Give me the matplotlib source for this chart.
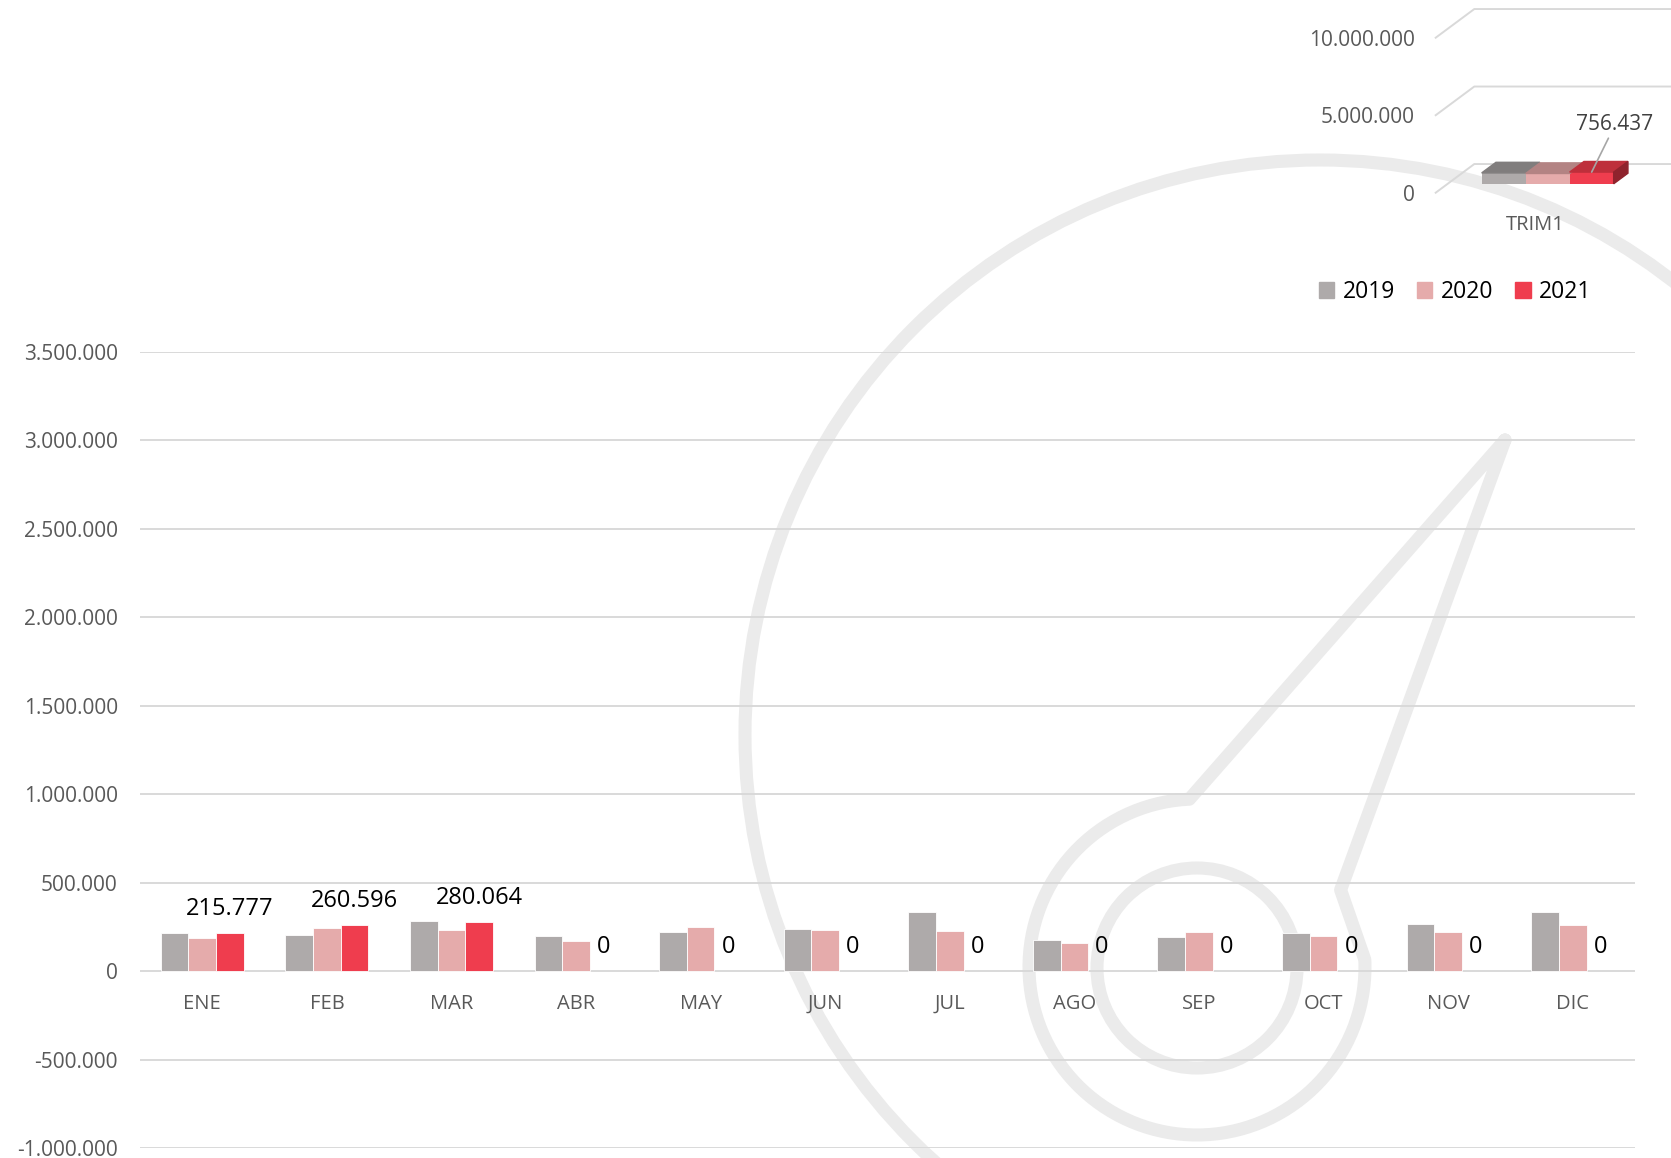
import numpy as np
import matplotlib
matplotlib.use("Agg")
import matplotlib.pyplot as plt
from matplotlib.patches import Polygon, Patch, Circle
from matplotlib.ticker import FuncFormatter

# monthly data
months = ["ENE", "FEB", "MAR", "ABR", "MAY", "JUN", "JUL", "AGO", "SEP", "OCT", "NOV", "DIC"]
years = ["2019", "2020", "2021"]
ventas_2019 = [216000, 203000, 284000, 197000, 220000, 237000, 333000, 174000, 193000, 218000, 267000, 333000]
ventas_2020 = [187500, 244000, 235000, 169000, 248000, 233000, 227000, 159000, 223000, 197000, 220000, 258000]
ventas_2021 = [215777, 260596, 280064, 0, 0, 0, 0, 0, 0, 0, 0, 0]
trim_labels = ["TRIM1"]

colors = ["#AEAAAA", "#E5ABAB", "#EF3D4E"]
top_colors = ["#807D7D", "#B38383", "#BE2F3B"]
side_color = "#8F232D"
grid_color = "#D9D9D9"
text_gray = "#595959"
wm_color = "#EBEBEB"

W, H = 1671, 1158
plt.rcParams["font.family"] = ["Open Sans", "DejaVu Sans"]


def fmt(v, pos=None):
    return f"{v:,.0f}".replace(",", ".")


def fig_box(x0, y0, x1, y1):
    # pixel box (y down) -> figure fraction rect
    return [x0 / W, 1 - y1 / H, (x1 - x0) / W, (y1 - y0) / H]


fig = plt.figure(figsize=(W / 100, H / 100), dpi=100)

# --- watermark (gauge icon) behind everything
bg = fig.add_axes([0, 0, 1, 1], zorder=0)
bg.set_xlim(0, W)
bg.set_ylim(H, 0)
bg.axis("off")
lw_wm = 9.4
bg.add_patch(Circle((1320, 735), 575, fill=False, ec=wm_color, lw=lw_wm))
bg.add_patch(Circle((1197, 968), 100, fill=False, ec=wm_color, lw=lw_wm))
cx, cy, R = 1197, 967, 168
tip = (1505, 440)
th = np.radians(np.linspace(92.6, 362.5, 200))
arc_x = cx + R * np.cos(th)
arc_y = cy - R * np.sin(th)
nx = np.concatenate([[tip[0]], arc_x, [1340.6, tip[0]]])
ny = np.concatenate([[tip[1]], arc_y, [889.9, tip[1]]])
bg.plot(nx, ny, color=wm_color, lw=lw_wm, solid_joinstyle="round", solid_capstyle="round")

# --- main monthly chart
ax = fig.add_axes(fig_box(140, 352, 1635, 1148), zorder=1)
ax.patch.set_alpha(0)
x = np.arange(len(months))
w = 0.222
series = [ventas_2019, ventas_2020, ventas_2021]
for i, (vals, c) in enumerate(zip(series, colors)):
    edge_w = [0.6 if v > 0 else 0 for v in vals]
    ax.bar(x + (i - 1) * w, vals, w, color=c, edgecolor="white", linewidth=edge_w, zorder=3)

for xi, v in zip(x, ventas_2021):
    ax.annotate(fmt(v), (xi + w, v), xytext=(0, 13), textcoords="offset points",
                ha="center", va="baseline", fontsize=17, color="black")

for xi, m in zip(x, months):
    ax.annotate(m, (xi, 0), xytext=(0, -27.4), textcoords="offset points",
                ha="center", va="baseline", fontsize=14.5, color=text_gray)

ax.set_xlim(-0.5, 11.5)
ax.set_ylim(-1_000_000, 3_500_000)
ax.set_yticks(np.arange(-1_000_000, 3_500_001, 500_000))
ax.yaxis.set_major_formatter(FuncFormatter(fmt))
ax.set_xticks([])
ax.tick_params(axis="y", length=0, pad=16, labelsize=15, labelcolor=text_gray)
ax.grid(axis="y", color=grid_color, lw=1.4, zorder=0)
for s in ax.spines.values():
    s.set_visible(False)

# --- small 3D quarter chart (top right)
trim_vals = [sum(v[:3]) for v in series]
ax2 = fig.add_axes(fig_box(1435.7, 0, 1671, 240), zorder=1)
ax2.patch.set_alpha(0)
px_per_val = 77.5 / 5e6
ax2.set_ylim(-(240 - 192.7) / px_per_val, 192.7 / px_per_val)
ax2.set_xlim(-0.5, -0.5 + 235.3 / 200)
DX, DY = 0.193, 1.85e6
d0, db = 0.31, 0.37
for v in [0, 5e6, 10e6]:
    ax2.plot([-0.5, -0.5 + DX, 1.0], [v, v + DY, v + DY], color=grid_color, lw=1.4, clip_on=False)

bw = 0.22
front_c = d0 * DX
base = d0 * DY
lefts = [front_c + (i - 1.5) * bw for i in range(3)]
ax2.bar(lefts, trim_vals, bw, bottom=base, align="edge", color=colors, zorder=3)
for l, v, tc in zip(lefts, trim_vals, top_colors):
    top = base + v
    ax2.add_patch(Polygon([(l, top), (l + bw, top), (l + bw + db * DX, top + db * DY),
                           (l + db * DX, top + db * DY)], closed=True, color=tc, zorder=3))
r = lefts[-1] + bw
ax2.add_patch(Polygon([(r, base), (r, base + trim_vals[-1]),
                       (r + db * DX, base + trim_vals[-1] + db * DY), (r + db * DX, base + db * DY)],
                      closed=True, color=side_color, zorder=3))
ax2.annotate(fmt(trim_vals[-1]), (lefts[-1] + bw / 2, base + trim_vals[-1]), xytext=(16.8, 30),
             textcoords="offset points", ha="center", va="baseline", fontsize=15, color="#404040",
             arrowprops=dict(arrowstyle="-", color="#A6A6A6", lw=1.2, shrinkA=0, shrinkB=0), zorder=4)
ax2.annotate(trim_labels[0], (0, 0), xytext=(0, -26.8), textcoords="offset points",
             ha="center", va="baseline", fontsize=14.5, color=text_gray)
ax2.set_yticks([0, 5e6, 10e6])
ax2.yaxis.set_major_formatter(FuncFormatter(fmt))
ax2.set_xticks([])
ax2.tick_params(axis="y", length=0, pad=14.9, labelsize=15, labelcolor=text_gray)
for s in ax2.spines.values():
    s.set_visible(False)

# --- legend
fig.legend(handles=[Patch(color=c) for c in colors], labels=years, loc="center",
           bbox_to_anchor=(1455 / W, 1 - 292.3 / H), ncol=3, frameon=False, fontsize=16.5,
           handlelength=0.68, handleheight=0.68, handletextpad=0.37, columnspacing=0.95,
           borderpad=0, borderaxespad=0)

fig.savefig("out.png", dpi=100)
